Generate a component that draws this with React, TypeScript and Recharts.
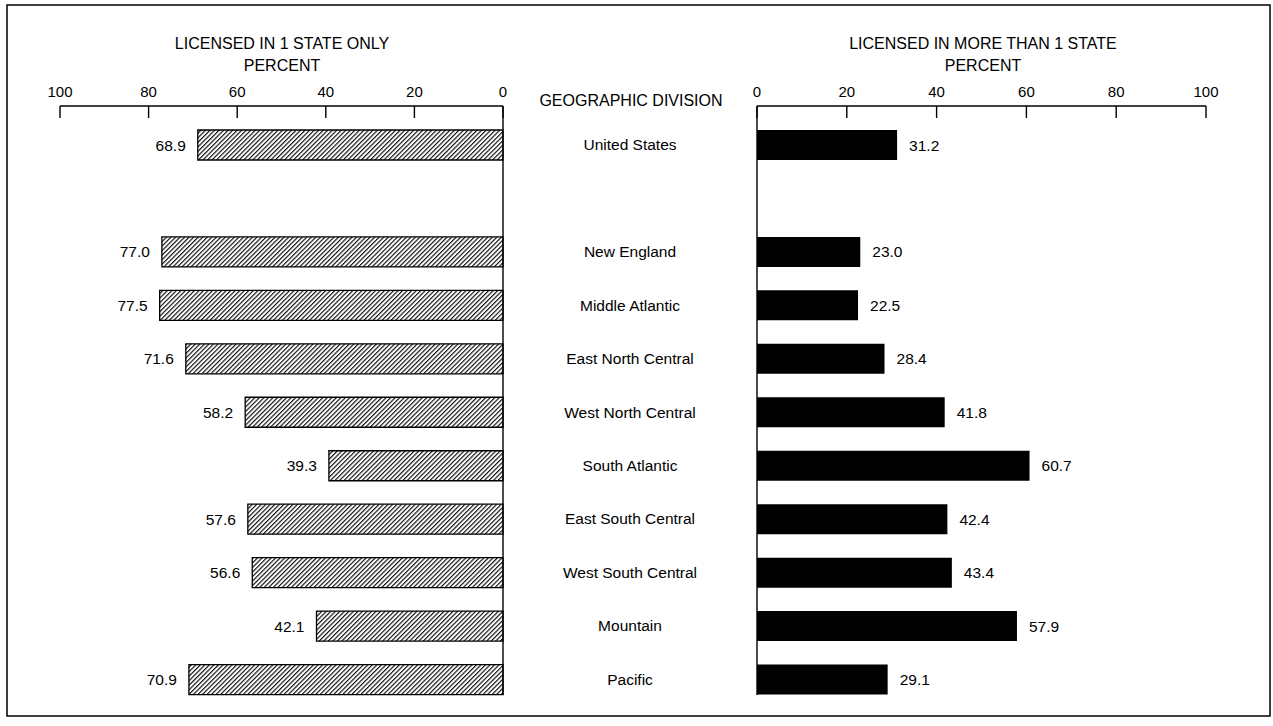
import React from 'react';
import { BarChart, Bar, XAxis, YAxis, LabelList } from 'recharts';

const divisions = [
  'United States',
  ' ',
  'New England',
  'Middle Atlantic',
  'East North Central',
  'West North Central',
  'South Atlantic',
  'East South Central',
  'West South Central',
  'Mountain',
  'Pacific',
];
const oneStateOnly = [68.9, null, 77.0, 77.5, 71.6, 58.2, 39.3, 57.6, 56.6, 42.1, 70.9];
const moreThanOneState = [31.2, null, 23.0, 22.5, 28.4, 41.8, 60.7, 42.4, 43.4, 57.9, 29.1];
const percentTicks = [0, 20, 40, 60, 80, 100];

const data = divisions.map((name, i) => ({
  name,
  one: oneStateOnly[i],
  more: moreThanOneState[i],
}));

const FONT = '"Liberation Sans", Arial, Helvetica, sans-serif';
const W = 1273;
const H = 726;

const PercentTick = (props: any) => {
  const { x, y, payload } = props;
  return (
    <g>
      <line x1={x} y1={y} x2={x} y2={y + 12} stroke="#000" strokeWidth={1.4} />
      <text x={x} y={y - 9} textAnchor="middle" fontSize={15} fill="#000" fontFamily={FONT}>
        {payload.value}
      </text>
    </g>
  );
};

const DivisionTick = (props: any) => {
  const { x, y, payload } = props;
  return (
    <text
      x={Number(x) + 127}
      y={y}
      textAnchor="middle"
      dominantBaseline="central"
      fontSize={15.5}
      fill="#000"
      fontFamily={FONT}
    >
      {payload.value}
    </text>
  );
};

const LeftValueLabel = (props: any) => {
  const { x, y, width, height, value } = props;
  if (value == null || value === '') return null;
  const left = Math.min(Number(x), Number(x) + Number(width));
  return (
    <text
      x={left - 12}
      y={Number(y) + Number(height) / 2}
      textAnchor="end"
      dominantBaseline="central"
      fontSize={15.5}
      fill="#000"
      fontFamily={FONT}
    >
      {Number(value).toFixed(1)}
    </text>
  );
};

const RightValueLabel = (props: any) => {
  const { x, y, width, height, value } = props;
  if (value == null || value === '') return null;
  const right = Math.max(Number(x), Number(x) + Number(width));
  return (
    <text
      x={right + 12}
      y={Number(y) + Number(height) / 2}
      textAnchor="start"
      dominantBaseline="central"
      fontSize={15.5}
      fill="#000"
      fontFamily={FONT}
    >
      {Number(value).toFixed(1)}
    </text>
  );
};

export default function App() {
  return (
    <div
      style={{
        position: 'absolute',
        left: 0,
        top: 0,
        width: W,
        height: H,
        background: '#fff',
        overflow: 'hidden',
        fontFamily: FONT,
      }}
    >
      <svg
        width={W}
        height={H}
        style={{ position: 'absolute', left: 0, top: 0, pointerEvents: 'none' }}
      >
        <defs>
          <pattern
            id="hatch"
            patternUnits="userSpaceOnUse"
            width={3.2}
            height={3.2}
            patternTransform="rotate(45)"
          >
            <rect x={0} y={0} width={3.2} height={3.2} fill="#fff" />
            <line x1={0.6} y1={0} x2={0.6} y2={3.2} stroke="#000" strokeWidth={1.1} />
          </pattern>
        </defs>
        <rect x={7} y={5} width={1263} height={711} fill="none" stroke="#000" strokeWidth={1.5} />
        <g fontFamily={FONT} fill="#000" textAnchor="middle">
          <text x={282} y={43} dominantBaseline="central" fontSize={16}>
            LICENSED IN 1 STATE ONLY
          </text>
          <text x={282} y={65} dominantBaseline="central" fontSize={16}>
            PERCENT
          </text>
          <text x={631} y={100} dominantBaseline="central" fontSize={16}>
            GEOGRAPHIC DIVISION
          </text>
          <text x={983} y={43} dominantBaseline="central" fontSize={16}>
            LICENSED IN MORE THAN 1 STATE
          </text>
          <text x={983} y={65} dominantBaseline="central" fontSize={16}>
            PERCENT
          </text>
        </g>
      </svg>

      <div style={{ position: 'absolute', left: 0, top: 0 }}>
        <BarChart
          width={757}
          height={H}
          data={data}
          layout="vertical"
          margin={{ top: 76, right: 0, bottom: 31, left: 60 }}
          barSize={30}
        >
          <XAxis
            type="number"
            orientation="top"
            domain={[0, 100]}
            ticks={percentTicks}
            reversed
            height={30}
            axisLine={{ stroke: '#000', strokeWidth: 1.4 }}
            tickLine={false}
            tickSize={0}
            tickMargin={0}
            tick={<PercentTick />}
            interval={0}
          />
          <YAxis
            type="category"
            dataKey="name"
            orientation="right"
            width={254}
            padding={{ top: 12, bottom: -11 }}
            axisLine={{ stroke: '#000', strokeWidth: 1.4 }}
            tickLine={false}
            tickSize={0}
            tickMargin={0}
            tick={<DivisionTick />}
            interval={0}
          />
          <Bar
            dataKey="one"
            fill="url(#hatch)"
            stroke="#000"
            strokeWidth={1.3}
            isAnimationActive={false}
          >
            <LabelList dataKey="one" content={<LeftValueLabel />} />
          </Bar>
        </BarChart>
      </div>

      <div style={{ position: 'absolute', left: 700, top: 0 }}>
        <BarChart
          width={573}
          height={H}
          data={data}
          layout="vertical"
          margin={{ top: 76, right: 67, bottom: 31, left: 56 }}
          barSize={30}
        >
          <XAxis
            type="number"
            orientation="top"
            domain={[0, 100]}
            ticks={percentTicks}
            height={30}
            axisLine={{ stroke: '#000', strokeWidth: 1.4 }}
            tickLine={false}
            tickSize={0}
            tickMargin={0}
            tick={<PercentTick />}
            interval={0}
          />
          <YAxis
            type="category"
            dataKey="name"
            orientation="left"
            width={1}
            padding={{ top: 12, bottom: -11 }}
            axisLine={{ stroke: '#000', strokeWidth: 1.4 }}
            tickLine={false}
            tick={false}
          />
          <Bar dataKey="more" fill="#000" isAnimationActive={false}>
            <LabelList dataKey="more" content={<RightValueLabel />} />
          </Bar>
        </BarChart>
      </div>
    </div>
  );
}
